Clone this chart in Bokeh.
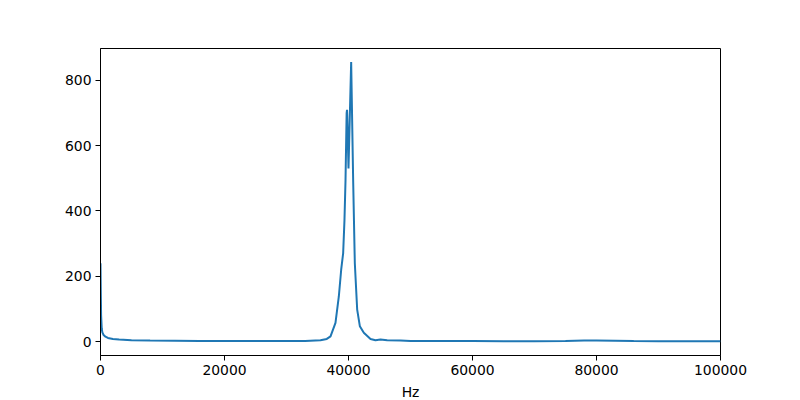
from bokeh.plotting import figure
from bokeh.models import Range1d, FixedTicker, NumeralTickFormatter
from bokeh.embed import file_html
from bokeh.resources import INLINE

# Spectrum magnitude
freq_hz = [0, 50, 100, 200, 300, 500, 800, 1200, 2000, 3000, 5000, 8000,
           12000, 16000, 20000, 25000, 30000, 33000, 35480, 36500, 37100,
           37900, 38440, 38820, 39140, 39350, 39520, 39700, 39760, 39800,
           40000, 40430, 40750, 41020, 41400, 41830, 42470, 43550, 44350,
           45160, 46240, 48390, 50000, 55000, 60000, 65000,
           70000, 75000, 78000, 80000, 83000, 86000, 90000, 95000, 100000]
magnitude = [240, 150, 80, 40, 28, 20, 15, 11, 8, 6, 4, 3,
             2.5, 2, 2, 1.5, 1.5, 2, 4, 8, 16,
             57, 138, 220, 271, 372, 495, 700, 710, 690,
             530, 856, 495, 240, 98, 47, 27, 8, 4,
             6, 4, 3, 1.5, 1.5, 1.5, 1,
             1, 1.5, 3, 3.5, 2.5, 1.5, 1, 1, 1]

x_ticks = [0, 20000, 40000, 60000, 80000, 100000]
y_ticks = [0, 200, 400, 600, 800]
x_label = "Hz"

FONT = "DejaVu Sans"

p = figure(frame_width=620, frame_height=307, output_backend="svg",
           toolbar_location=None,
           x_range=Range1d(0, 100000), y_range=Range1d(-42.75, 897.75),
           min_border_left=100, min_border_right=80, min_border_top=48,
           min_border_bottom=20)

p.line(freq_hz, magnitude, line_color="#1f77b4", line_width=2)

p.grid.visible = False
p.outline_line_color = "black"
p.outline_line_width = 1
p.background_fill_color = "white"
p.border_fill_color = "white"

for ax in (p.xaxis[0], p.yaxis[0]):
    ax.axis_line_color = "black"
    ax.major_tick_out = 5
    ax.major_tick_in = 0
    ax.minor_tick_out = 0
    ax.minor_tick_in = 0
    ax.major_label_text_font = FONT
    ax.major_label_text_font_size = "13.9px"
    ax.major_label_text_color = "black"
    ax.major_label_standoff = 4
    ax.formatter = NumeralTickFormatter(format="0")

p.xaxis[0].ticker = FixedTicker(ticks=x_ticks)
p.yaxis[0].ticker = FixedTicker(ticks=y_ticks)
p.xaxis[0].axis_label = x_label
p.xaxis[0].axis_label_text_font = FONT
p.xaxis[0].axis_label_text_font_size = "13.9px"
p.xaxis[0].axis_label_text_font_style = "normal"
p.xaxis[0].axis_label_text_color = "black"
p.xaxis[0].axis_label_standoff = 6

open("out.html", "w").write(file_html(p, INLINE))
